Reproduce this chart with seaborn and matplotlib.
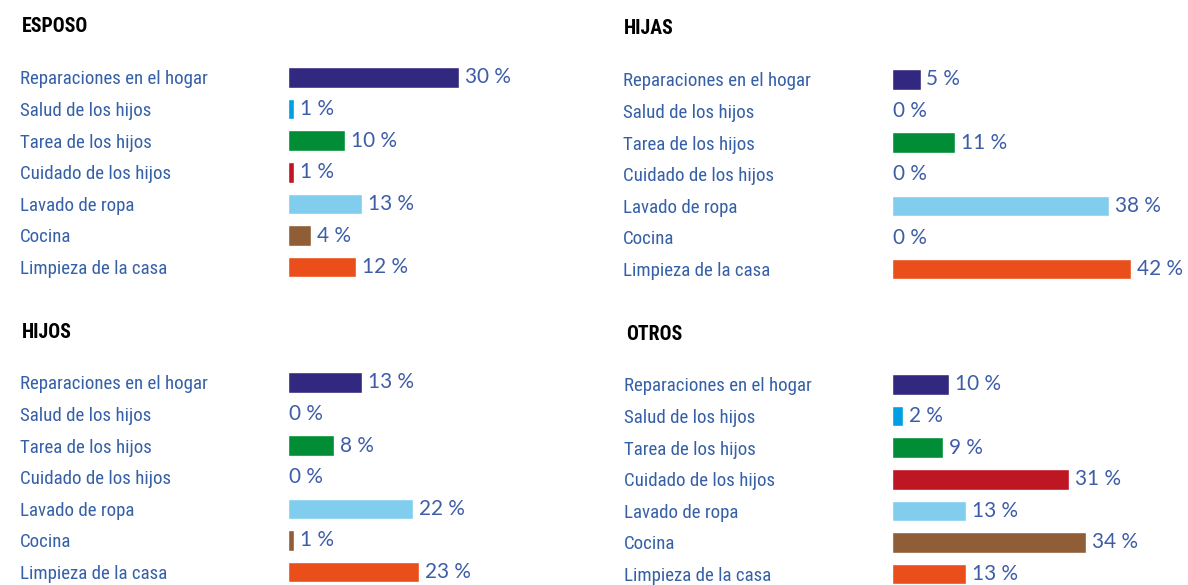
import os
import matplotlib
matplotlib.use("Agg")
import matplotlib.pyplot as plt
import matplotlib.transforms as mtransforms
from matplotlib import font_manager as fm
from matplotlib.font_manager import FontProperties
import pandas as pd
import seaborn as sns

# --- data -----------------------------------------------------------------
categories = [
    "Reparaciones en el hogar",
    "Salud de los hijos",
    "Tarea de los hijos",
    "Cuidado de los hijos",
    "Lavado de ropa",
    "Cocina",
    "Limpieza de la casa",
]
esposo = [30, 1, 10, 1, 13, 4, 12]
hijas = [5, 0, 11, 0, 38, 0, 42]
hijos = [13, 0, 8, 0, 22, 1, 23]
otros = [10, 2, 9, 31, 13, 34, 13]
panel_titles = ["ESPOSO", "HIJAS", "HIJOS", "OTROS"]

colors = ["#32287f", "#009fe3", "#008d36", "#be1622",
          "#80cdee", "#8f5e36", "#e94e1b"]
palette = dict(zip(categories, colors))

# --- fonts ----------------------------------------------------------------
sns.set_theme(style="white")
plt.rcParams["font.family"] = ["DejaVu Sans"]

font_files = {os.path.basename(f.fname): f.fname for f in fm.fontManager.ttflist}
for d in ["/usr/share/fonts", "/usr/local/share/fonts",
          os.path.expanduser("~/.fonts")]:
    for root, _, files in os.walk(d):
        for fn in files:
            if fn.lower().endswith((".ttf", ".otf")):
                font_files.setdefault(fn, os.path.join(root, fn))


def pick(names, keywords, fallback):
    for n in names:
        if n in font_files:
            return FontProperties(fname=font_files[n])
    for fn, path in sorted(font_files.items()):
        low = fn.lower()
        if all(k in low for k in keywords):
            return FontProperties(fname=path)
    return fallback


label_fp = pick(
    ["RobotoCondensed-Regular.ttf", "NotoSans-ExtraCondensed.ttf",
     "NotoSans-Condensed.ttf", "LiberationSansNarrow-Regular.ttf",
     "DejaVuSansCondensed.ttf"],
    ["condensed"],
    FontProperties(family="DejaVu Sans"))
title_fp = pick(
    ["RobotoCondensed-ExtraBold.ttf", "RobotoCondensed-Bold.ttf",
     "NotoSans-ExtraCondensedBold.ttf", "NotoSans-CondensedBold.ttf",
     "LiberationSansNarrow-Bold.ttf", "DejaVuSansCondensed-Bold.ttf"],
    ["condensed", "bold"],
    FontProperties(family="DejaVu Sans", weight="bold"))
value_fp = FontProperties(family="Lato")

LABEL_COLOR = "#3560a8"
VALUE_COLOR = "#3d5da8"

W, H = 1188, 585
fig = plt.figure(figsize=(W / 100, H / 100), dpi=100)
fig.patch.set_facecolor("white")
renderer = fig.canvas.get_renderer()


def fit_size(text, fp, target_px, max_size):
    """Largest size (<= max_size) at which text is at most target_px wide."""
    probe = fp.copy()
    probe.set_size(max_size)
    t = fig.text(0, 0, text, fontproperties=probe)
    w = t.get_window_extent(renderer).width
    t.remove()
    return min(max_size, max_size * target_px / w)


label_size = fit_size(categories[0], label_fp, 188, 17)
title_size = fit_size("ESPOSO", title_fp, 66, 16)
value_size = fit_size("30 %", value_fp, 46, 15)

PX_PER_PCT = 5.7
ROW = 31.6

# (values, title, title_x, title_y, label_x, bar_x, first_row_y, axes_width)
panels = [
    (esposo, panel_titles[0], 22, 27, 20, 288, 77.5, 300),
    (hijas, panel_titles[1], 624, 29, 623, 892, 79.5, 296),
    (hijos, panel_titles[2], 22, 332, 20, 288, 382.5, 300),
    (otros, panel_titles[3], 626, 334, 624, 892, 384.5, 296),
]

for vals, title, tx, ty, lx, bx, y0, aw in panels:
    top = y0 - ROW / 2
    ax_h = ROW * len(categories)
    ax = fig.add_axes([bx / W, 1 - (top + ax_h) / H, aw / W, ax_h / H])
    df = pd.DataFrame({"categoria": categories, "valor": vals})
    sns.barplot(data=df, x="valor", y="categoria", hue="categoria",
                palette=palette, orient="h", width=0.65, legend=False,
                saturation=1, ax=ax)
    ax.set_xlim(0, aw / PX_PER_PCT)
    ax.set_ylim(len(categories) - 0.5, -0.5)
    ax.axis("off")

    # category names on the left
    trans = mtransforms.blended_transform_factory(fig.transFigure, ax.transData)
    for i, cat in enumerate(categories):
        ax.text(lx / W, i + 0.06, cat, transform=trans, ha="left",
                va="center", fontproperties=label_fp, fontsize=label_size,
                color=LABEL_COLOR, clip_on=False)

    # value labels at bar ends
    off = 6 / PX_PER_PCT
    for i, v in enumerate(vals):
        x = v + off if v > 0 else 0.2
        ax.text(x, i, f"{v} %", ha="left", va="center",
                fontproperties=value_fp, fontsize=value_size,
                color=VALUE_COLOR, clip_on=False)

    fig.text(tx / W, 1 - ty / H, title, ha="left", va="center",
             fontproperties=title_fp, fontsize=title_size, color="black")

fig.savefig("out.png", dpi=100, facecolor="white")
